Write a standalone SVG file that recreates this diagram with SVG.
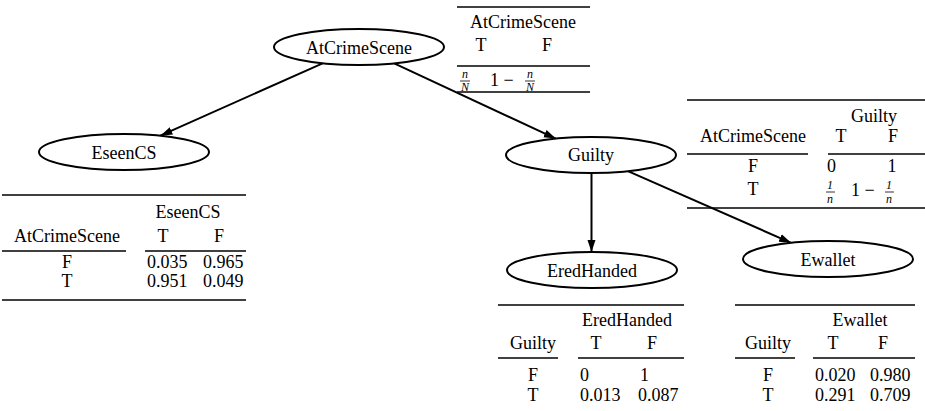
<svg xmlns="http://www.w3.org/2000/svg" width="925" height="411" viewBox="0 0 925 411" font-family="'Liberation Serif', serif">
<defs>
<marker id="ah" viewBox="0 0 12 10" refX="12" refY="5" markerWidth="12" markerHeight="10" markerUnits="userSpaceOnUse" orient="auto">
<path d="M0,1 L12,5 L0,9 Z" fill="#000"/>
</marker>
<style>
text{font-family:'Liberation Serif',serif;font-size:18px;fill:#000}
.m{text-anchor:middle}
.f{font-size:12px;font-style:italic;text-anchor:middle}
ellipse{fill:#fff;stroke:#000;stroke-width:2}
.r{stroke:#000;stroke-width:1.4;fill:none}
.e{stroke:#000;stroke-width:2;fill:none;marker-end:url(#ah)}
.fb{stroke:#000;stroke-width:0.8}
</style>
</defs>
<rect width="925" height="411" fill="#fff"/>
<g id="connectors">
<line class="e" x1="322.6" y1="63.3" x2="160.4" y2="135.7"/>
<line class="e" x1="394.2" y1="63.4" x2="555.8" y2="138.6"/>
<line class="e" x1="591.5" y1="173" x2="591.5" y2="252"/>
<line class="e" x1="627.9" y1="171.2" x2="791.1" y2="242.8"/>
</g>
<g id="AtCrimeScene">
<ellipse cx="359" cy="47" rx="85" ry="18"/>
<text class="m" x="359" y="53.5">AtCrimeScene</text>
</g>
<g id="EseenCS">
<ellipse cx="124" cy="152" rx="85" ry="18"/>
<text class="m" x="124" y="158.5">EseenCS</text>
</g>
<g id="Guilty">
<ellipse cx="591" cy="155" rx="85" ry="18"/>
<text class="m" x="591" y="161">Guilty</text>
</g>
<g id="EredHanded">
<ellipse cx="592" cy="270" rx="85" ry="18"/>
<text class="m" x="592" y="276.5">EredHanded</text>
</g>
<g id="Ewallet">
<ellipse cx="828" cy="259" rx="85" ry="18"/>
<text class="m" x="828" y="265.5">Ewallet</text>
</g>
<g id="table-AtCrimeScene">
<line class="r" x1="457" y1="7" x2="590" y2="7"/>
<text class="m" x="523" y="28">AtCrimeScene</text>
<text class="m" x="481" y="51">T</text>
<text class="m" x="547" y="51">F</text>
<line class="r" x1="457" y1="66" x2="590" y2="66"/>
<text class="f" x="465" y="78">n</text>
<line class="fb" x1="460" y1="81" x2="470" y2="81"/>
<text class="f" x="465" y="91">N</text>
<text x="490" y="86">1 −</text>
<text class="f" x="530" y="78">n</text>
<line class="fb" x1="525" y1="81" x2="535" y2="81"/>
<text class="f" x="530" y="91">N</text>
<line class="r" x1="457" y1="92" x2="590" y2="92"/>
</g>
<g id="table-Guilty">
<line class="r" x1="687" y1="100" x2="925" y2="100"/>
<text class="m" x="874" y="122">Guilty</text>
<text class="m" x="753" y="142">AtCrimeScene</text>
<text class="m" x="841" y="142">T</text>
<text class="m" x="893" y="142">F</text>
<line class="r" x1="687" y1="154" x2="808" y2="154"/>
<line class="r" x1="828" y1="154" x2="925" y2="154"/>
<text class="m" x="753" y="172">F</text>
<text x="827" y="172">0</text>
<text class="m" x="892" y="172">1</text>
<text class="m" x="753" y="195">T</text>
<text class="f" x="830" y="189">1</text>
<line class="fb" x1="826" y1="192" x2="835" y2="192"/>
<text class="f" x="830" y="203">n</text>
<text x="851" y="196">1 −</text>
<text class="f" x="889" y="189">1</text>
<line class="fb" x1="885" y1="192" x2="894" y2="192"/>
<text class="f" x="889" y="203">n</text>
<line class="r" x1="687" y1="208" x2="925" y2="208"/>
</g>
<g id="table-EseenCS">
<line class="r" x1="2" y1="195" x2="246" y2="195"/>
<text class="m" x="188" y="218">EseenCS</text>
<text class="m" x="67" y="242">AtCrimeScene</text>
<text class="m" x="163" y="242">T</text>
<text class="m" x="219" y="242">F</text>
<line class="r" x1="2" y1="251" x2="126" y2="251"/>
<line class="r" x1="145" y1="251" x2="246" y2="251"/>
<text class="m" x="67" y="268">F</text>
<text x="147" y="268">0.035</text>
<text x="203" y="268">0.965</text>
<text class="m" x="67" y="287">T</text>
<text x="147" y="287">0.951</text>
<text x="203" y="287">0.049</text>
<line class="r" x1="2" y1="300" x2="246" y2="300"/>
</g>
<g id="table-EredHanded">
<line class="r" x1="498" y1="305" x2="684" y2="305"/>
<text class="m" x="627" y="326">EredHanded</text>
<text class="m" x="533" y="349">Guilty</text>
<text class="m" x="596" y="349">T</text>
<text class="m" x="652" y="349">F</text>
<line class="r" x1="498" y1="358" x2="558" y2="358"/>
<line class="r" x1="578" y1="358" x2="684" y2="358"/>
<text class="m" x="533" y="381">F</text>
<text x="580" y="381">0</text>
<text x="640" y="381">1</text>
<text class="m" x="533" y="401">T</text>
<text x="580" y="401">0.013</text>
<text x="638" y="401">0.087</text>
</g>
<g id="table-Ewallet">
<line class="r" x1="735" y1="305" x2="915" y2="305"/>
<text class="m" x="860" y="326">Ewallet</text>
<text class="m" x="768" y="349">Guilty</text>
<text class="m" x="833" y="349">T</text>
<text class="m" x="883" y="349">F</text>
<line class="r" x1="735" y1="358" x2="795" y2="358"/>
<line class="r" x1="813" y1="358" x2="915" y2="358"/>
<text class="m" x="768" y="381">F</text>
<text x="815" y="381">0.020</text>
<text x="870" y="381">0.980</text>
<text class="m" x="768" y="401">T</text>
<text x="815" y="401">0.291</text>
<text x="870" y="401">0.709</text>
</g>
</svg>
